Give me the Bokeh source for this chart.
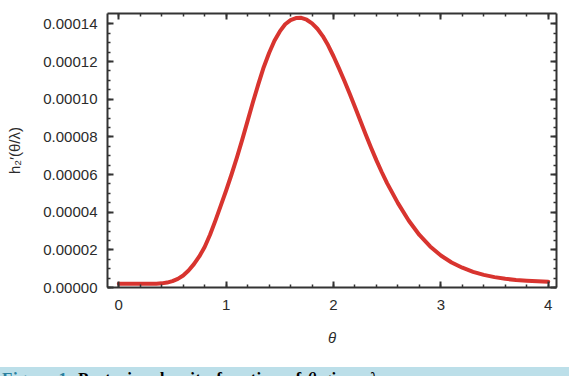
import numpy as np
from bokeh.plotting import figure
from bokeh.models import (LinearAxis, FixedTicker, PrintfTickFormatter, Div, Range1d,
                          CustomJSTickFormatter)
from bokeh.layouts import column
from bokeh.embed import file_html
from bokeh.resources import INLINE

# ---- data ----
theta = [0.0, 0.1, 0.2, 0.3, 0.35, 0.4, 0.45, 0.5, 0.55, 0.6, 0.65, 0.7, 0.75, 0.8,
         0.85, 0.9, 0.95, 1.0, 1.05, 1.1, 1.15, 1.2, 1.25, 1.3, 1.35, 1.4, 1.45, 1.5,
         1.55, 1.6, 1.65, 1.7, 1.75, 1.8, 1.85, 1.9, 1.95, 2.0, 2.05, 2.1, 2.15, 2.2,
         2.25, 2.3, 2.35, 2.4, 2.45, 2.5, 2.6, 2.7, 2.8, 2.9, 3.0, 3.1, 3.2, 3.3, 3.4,
         3.5, 3.6, 3.7, 3.8, 3.9, 4.0]
density_micro = [2.0, 2.0, 2.0, 2.0, 2.05, 2.2, 2.6, 3.4, 4.6, 6.4, 9.0, 12.4, 16.5,
                 21.5, 28.0, 35.5, 43.5, 51.5, 60.0, 69.0, 78.5, 88.5, 98.5, 108.0,
                 117.0, 124.5, 131.0, 136.0, 139.8, 142.0, 143.1, 143.2, 142.2, 140.3,
                 137.4, 133.5, 128.6, 122.8, 116.5, 109.9, 103.0, 95.8, 88.5, 81.2,
                 74.2, 67.5, 61.2, 55.3, 44.8, 35.6, 27.9, 21.8, 17.0, 13.3, 10.5, 8.3,
                 6.7, 5.5, 4.6, 4.0, 3.6, 3.3, 3.1]
density = [v * 1e-6 for v in density_micro]

x_ticks = [0, 1, 2, 3, 4]
x_minor = [round(v, 2) for v in np.arange(0.0, 4.01, 0.2)]
y_ticks = [0.0, 0.00002, 0.00004, 0.00006, 0.00008, 0.00010, 0.00012, 0.00014]
y_minor = [round(v, 7) for v in np.arange(0.0, 0.000145, 0.000005)]

x_label = "θ"
y_label = "h₂′(θ/λ)"
caption_html = ('<span style="color:#2a7f9e">Figure 1.</span> Posterior density '
                'function of <i>θ</i> given <i>λ</i>.')

FONT = "Liberation Sans"
TXT = "#2b2b2b"
LINE = "#333333"

p = figure(width=569, height=367,
           x_range=Range1d(-0.105, 4.077), y_range=Range1d(0, 0.0001455),
           output_backend="svg", toolbar_location=None,
           min_border_left=107, min_border_right=13,
           min_border_top=13, min_border_bottom=80,
           x_axis_label=x_label, y_axis_label=y_label)
p.grid.visible = False
p.outline_line_color = None
p.background_fill_color = "white"
p.border_fill_color = "white"

p.line(theta, density, line_color="#d8342f", line_width=4, line_cap="round",
       line_join="round")

top = LinearAxis()
right = LinearAxis()
p.add_layout(top, "above")
p.add_layout(right, "right")

def style(ax, ticks, minor, labels):
    ax.ticker = FixedTicker(ticks=ticks, minor_ticks=minor)
    ax.axis_line_color = LINE
    ax.axis_line_width = 2
    ax.major_tick_line_color = LINE
    ax.major_tick_line_width = 2
    ax.minor_tick_line_color = LINE
    ax.minor_tick_line_width = 1.5
    ax.major_tick_in = 6
    ax.major_tick_out = 0
    ax.minor_tick_in = 3
    ax.minor_tick_out = 0
    ax.major_label_text_font = FONT
    ax.major_label_text_color = TXT
    ax.major_label_text_font_size = "15px"
    if not labels:
        ax.formatter = CustomJSTickFormatter(code="return '';")
        ax.major_label_standoff = 0

style(p.below[0], x_ticks, x_minor, True)
style(top, x_ticks, x_minor, False)
style(p.left[0], y_ticks, y_minor, True)
style(right, y_ticks, y_minor, False)

p.below[0].major_label_standoff = 12
p.left[0].major_label_standoff = 10
p.left[0].formatter = PrintfTickFormatter(format="%.5f")

for ax in (p.below[0], p.left[0]):
    ax.axis_label_text_font = FONT
    ax.axis_label_text_font_size = "15px"
    ax.axis_label_text_font_style = "normal"
    ax.axis_label_text_color = TXT
p.below[0].axis_label_text_font_style = "italic"
p.below[0].axis_label_standoff = 16
p.left[0].axis_label_standoff = 17

div = Div(text=caption_html, width=569, height=9, margin=0,
          styles={"background-color": "#bcdfe9", "overflow": "hidden",
                  "font-family": "Liberation Serif", "font-size": "17px",
                  "font-weight": "bold", "line-height": "20px",
                  "letter-spacing": "0.5px", "word-spacing": "1px",
                  "padding-top": "2px", "padding-left": "2px",
                  "white-space": "nowrap",
                  "box-sizing": "border-box", "width": "569px", "height": "9px"})

layout = column(p, div, spacing=0)
open("out.html", "w").write(file_html(layout, INLINE))
